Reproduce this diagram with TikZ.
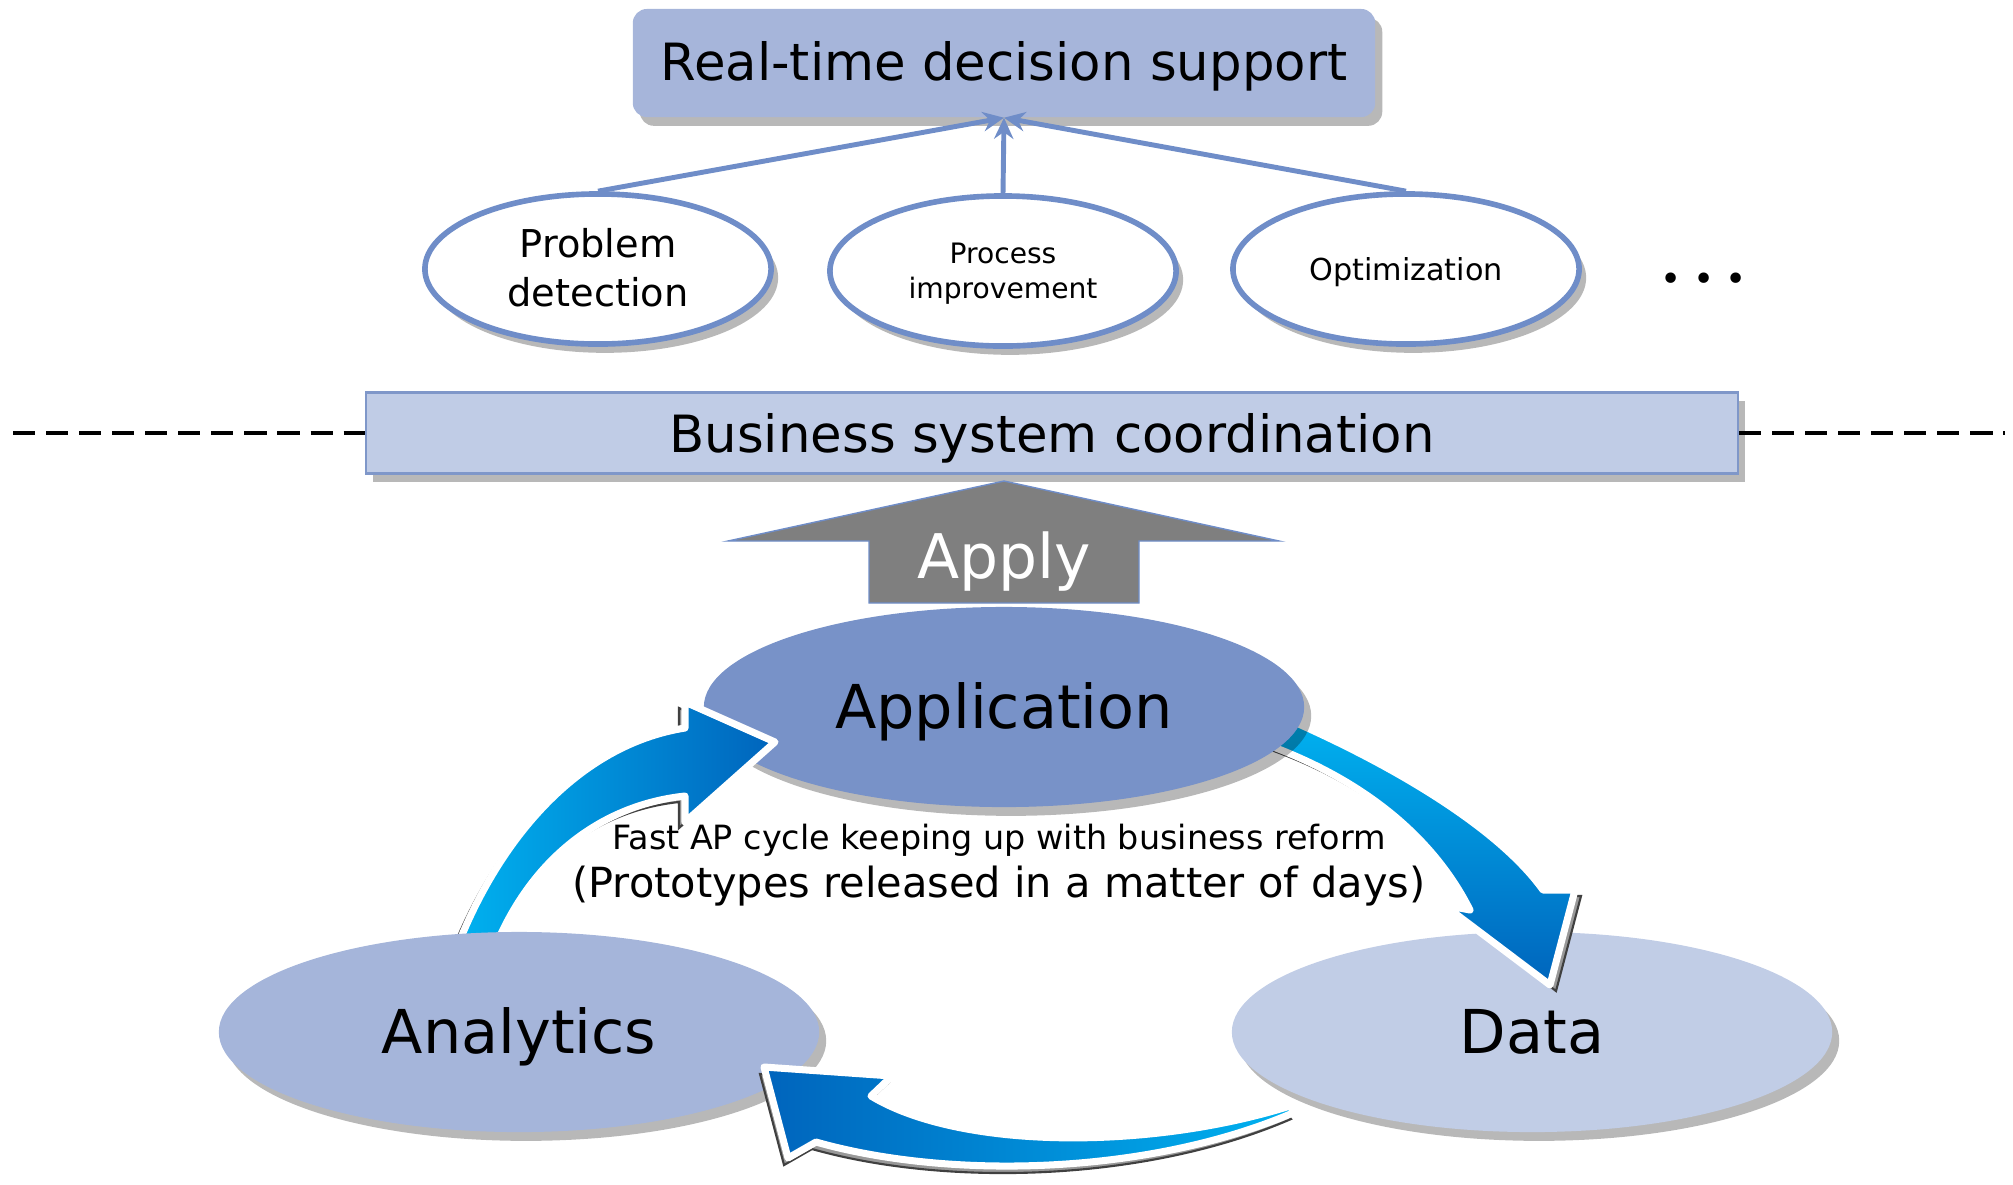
\documentclass[tikz,border=0pt]{standalone}
\usepackage{fontspec}
\setmainfont{DejaVu Sans}
\usetikzlibrary{shapes.geometric,shadows,arrows.meta}
\definecolor{topfill}{RGB}{166,181,218}
\definecolor{bscfill}{RGB}{192,204,230}
\definecolor{bscline}{RGB}{127,151,201}
\definecolor{appfill}{RGB}{120,146,200}
\definecolor{anafill}{RGB}{165,181,218}
\definecolor{datfill}{RGB}{193,205,230}
\definecolor{linecol}{RGB}{111,141,200}
\definecolor{arrlight}{RGB}{0,178,240}
\definecolor{arrdark}{RGB}{0,100,188}
\definecolor{applygray}{RGB}{127,127,127}
\newcommand\arrLpath{(456,950) .. controls (498,840) and (578,745) .. (685,728) -- (685,702) -- (775,742) -- (685,822) -- (685,796) .. controls (600,805) and (530,860) .. (494,950) -- cycle}
\newcommand\arrRpath{(1285,718) .. controls (1400,768) and (1500,830) .. (1543,890) -- (1575,890) -- (1550,985) -- (1444,905) -- (1470,910) .. controls (1445,860) and (1390,790) .. (1268,745) -- cycle}
\newcommand\arrBpath{(764,1067) -- (892,1076) -- (871,1096) .. controls (960,1150) and (1150,1150) .. (1290,1106) -- (1295,1112) .. controls (1150,1175) and (950,1180) .. (816,1142) -- (788,1158) -- cycle}
\begin{document}
\begin{tikzpicture}[x=0.01cm,y=-0.01cm,
  shad/.style={drop shadow={shadow xshift=2pt,shadow yshift=-2.5pt,opacity=0.28,fill=black}},
  smallell/.style={ellipse,draw=linecol,line width=1.6pt,fill=white,minimum width=3.46cm,minimum height=1.5cm,inner sep=0pt,align=center,shad},
  bigell/.style={ellipse,minimum width=6cm,minimum height=2cm,inner sep=0pt,shad,font=\fontsize{17.2pt}{20pt}\selectfont},
  conn/.style={draw=linecol,line width=1.4pt,-{Stealth[length=6pt,width=5.5pt]}},
  dashline/.style={draw=black,line width=1.3pt,dash pattern=on 6.3pt off 3.1pt},
  arrshadow/.style={fill=black!40,draw=black!75,line width=0.6pt},
  arrbody/.style={draw=white,line width=2pt,line join=round}]
\useasboundingbox (0,0) rectangle (2013,1184);

% business system coordination with dashed separator
\node[draw=bscline,line width=0.6pt,fill=bscfill,minimum width=13.71cm,minimum height=0.81cm,inner sep=0pt,shad,
  text depth=0pt,font=\fontsize{14.6pt}{17pt}\selectfont] (bsc) at (1052,433) {Business system coordination};
\coordinate (dl) at (13,433);
\coordinate (dr) at (2005,433);
\draw[dashline] (dl) -- (bsc.west);
\draw[dashline] (bsc.east) -- (dr);

% top box
\node[fill=topfill,rounded corners=4pt,minimum width=7.42cm,minimum height=1.08cm,inner sep=0pt,shad,
  text depth=0.12em,font=\fontsize{14.6pt}{17pt}\selectfont] (rtd) at (1004,63) {Real-time decision support};

% small ellipses
\node[smallell,text depth=0.1em,font=\fontsize{10.9pt}{14pt}\selectfont] (pd) at (598,269) {Problem\\detection};
\node[smallell,text depth=0pt,font=\fontsize{8pt}{10pt}\selectfont] (pi) at (1003,271) {Process\\improvement};
\node[smallell,text depth=0pt,font=\fontsize{8.6pt}{10pt}\selectfont] (opt) at (1406,269) {Optimization};
\node[inner sep=0pt,font=\fontsize{10.2pt}{12pt}\selectfont] (dots) at (1704,282) {• • •};

\draw[conn] (pd.north) -- (rtd.south);
\draw[conn] (pi.north) -- (rtd.south);
\draw[conn] (opt.north) -- (rtd.south);

% Apply arrow
\fill[applygray,draw=linecol,line width=0.4pt] (1004,481) -- (1279,541) -- (1139,541) -- (1139,603) -- (869,603) -- (869,541) -- (728,541) -- cycle;
\node[text=white,inner sep=0pt,font=\fontsize{17.5pt}{20pt}\selectfont] (applyt) at (1004,562) {Apply};

% Data ellipse
\node[bigell,fill=datfill] (dat) at (1532,1032) {Data};

% right curved arrow (Application -> Data)
\fill[arrshadow,shift={(6,6)}] \arrRpath;
\shadedraw[arrbody,top color=arrlight,bottom color=arrdark] \arrRpath;

% Application ellipse
\node[bigell,fill=appfill,text depth=0.1em] (app) at (1004,707) {Application};

% cycle caption
\node[inner sep=0pt,font=\fontsize{9.5pt}{11pt}\selectfont] (fast) at (999,840) {Fast AP cycle keeping up with business reform};
\node[inner sep=0pt,font=\fontsize{11.8pt}{14pt}\selectfont] (proto) at (999,886) {(Prototypes released in a matter of days)};

% left curved arrow (Analytics -> Application)
\fill[arrshadow,shift={(-6,6)}] \arrLpath;
\shadedraw[arrbody,left color=arrlight,right color=arrdark] \arrLpath;

% Analytics ellipse
\node[bigell,fill=anafill,text depth=0.11em] (ana) at (519,1032) {Analytics};

% bottom curved arrow (Data -> Analytics)
\fill[arrshadow,shift={(-4,7)}] \arrBpath;
\shadedraw[arrbody,left color=arrdark,right color=arrlight] \arrBpath;
\end{tikzpicture}
\end{document}
